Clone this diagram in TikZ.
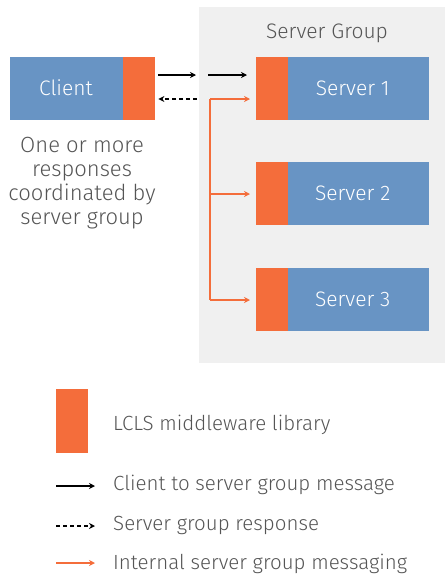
\documentclass[tikz,border=0pt]{standalone}
\usepackage{fontspec}
\setmainfont{Fira Sans Light}
\usetikzlibrary{arrows.meta,positioning}
\definecolor{boxblue}{HTML}{6894C4}
\definecolor{liborange}{HTML}{F46D3B}
\definecolor{groupgray}{HTML}{F0F0F0}
\definecolor{txtgray}{HTML}{555555}
\tikzset{
  blubox/.style={draw=none,fill=boxblue,minimum height=63pt,inner sep=0pt},
  boxtxt/.style={text=white,font=\fontsize{21}{24}\selectfont,inner sep=0pt},
  libbox/.style={draw=none,fill=liborange,minimum width=32pt,minimum height=63pt,inner sep=0pt},
  lbl/.style={text=txtgray,font=\fontsize{20.5}{24}\selectfont,inner sep=0pt},
  msg/.style={line width=1.6pt,-{Stealth[length=6pt,width=6pt]}},
  resp/.style={msg,dash pattern=on 4pt off 3pt},
  internal/.style={line width=1.4pt,liborange,-{Stealth[length=6pt,width=6pt]}},
}
\begin{document}
\begin{tikzpicture}[x=1pt,y=-1pt]
\useasboundingbox (0,0) rectangle (445,579);
% server group backdrop
\fill[groupgray] (199,7) rectangle (445,363);
\node[lbl,font=\fontsize{21}{24}\selectfont] (grp) at (327,33) {Server Group};
% client
\node[blubox,minimum width=113pt,anchor=north west] (client) at (10,57) {};
\node[boxtxt] (clienttxt) at (66,88) {Client};
\node[libbox,anchor=north west] (clientlib) at (123,57) {};
% servers
\foreach \i/\y in {1/57,2/162,3/268}{
  \node[libbox,anchor=north west] (lib\i) at (256,\y) {};
  \node[blubox,minimum width=141pt,anchor=north west] (srv\i) at (288,\y) {};
  \node[boxtxt] (srvtxt\i) at ([xshift=-6pt]srv\i.center) {Server \i};
}
% note under client
\node[lbl,align=center,font=\fontsize{22}{23.8}\selectfont] (note) at (82,183) {One or more\\responses\\coordinated by\\server group};
% client to server group
\coordinate (gapL) at (196,75);
\coordinate (gapR) at (208,75);
\coordinate (outL) at ([xshift=3pt]clientlib.east |- gapL);
\coordinate (inR) at ([xshift=-9pt]lib1.west |- gapR);
\draw[msg] (outL) -- (gapL);
\draw[msg] (gapR) -- (inR);
\coordinate (respR) at (197,99);
\coordinate (respL) at ([xshift=3pt]clientlib.east |- respR);
\draw[resp] (respR) -- (respL);
% internal messaging
\coordinate (bus1) at (210,99);
\coordinate (bus2) at (210,194);
\coordinate (bus3) at (210,300);
\coordinate (in1) at ([xshift=-6pt]lib1.west |- bus1);
\coordinate (in2) at ([xshift=-6pt]lib2.west |- bus2);
\coordinate (in3) at ([xshift=-6pt]lib3.west |- bus3);
\draw[line width=1.4pt,liborange] (bus1) -- (bus3);
\draw[internal] (bus1) -- (in1);
\draw[internal] (bus2) -- (in2);
\draw[internal] (bus3) -- (in3);
% legend
\node[libbox,minimum height=64pt,anchor=north west] (leglib) at (56,389) {};
\node[lbl,anchor=west] (t1) at (113,425) {LCLS middleware library};
\coordinate (a1) at (56,486);
\coordinate (a1e) at (95,486);
\coordinate (a2) at (56,526);
\coordinate (a2e) at (95,526);
\coordinate (a3) at (56,563);
\coordinate (a3e) at (95,563);
\draw[msg] (a1) -- (a1e);
\node[lbl,anchor=west] (t2) at (113,485) {Client to server group message};
\draw[resp] (a2) -- (a2e);
\node[lbl,anchor=west] (t3) at (113,525) {Server group response};
\draw[internal] (a3) -- (a3e);
\node[lbl,anchor=west] (t4) at (113,564) {Internal server group messaging};
\end{tikzpicture}
\end{document}
